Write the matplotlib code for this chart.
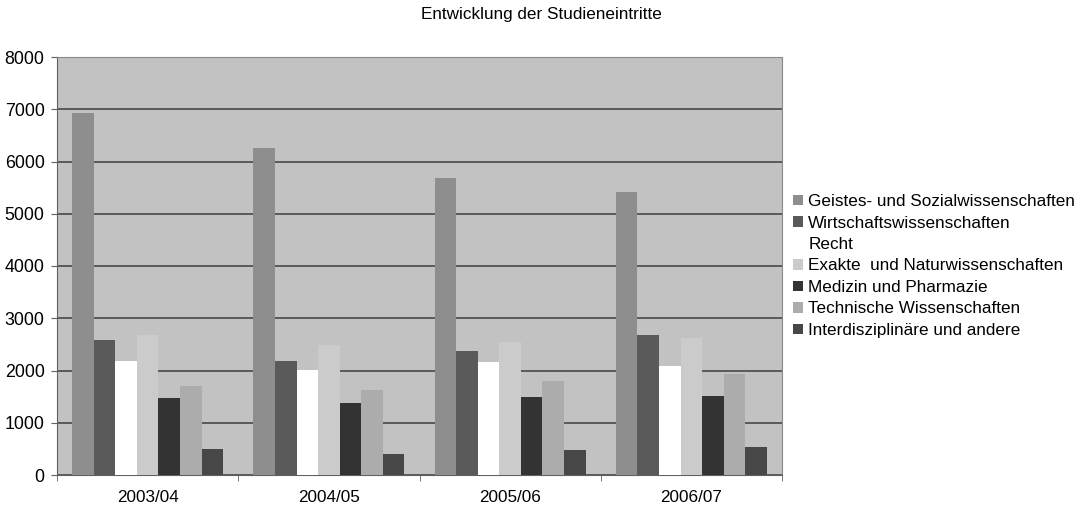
import numpy as np
import matplotlib.pyplot as plt

plt.rcParams['font.family'] = ['Liberation Sans', 'DejaVu Sans']

jahre = ['2003/04', '2004/05', '2005/06', '2006/07']
faecher = ['Geistes- und Sozialwissenschaften', 'Wirtschaftswissenschaften', 'Recht',
           'Exakte  und Naturwissenschaften', 'Medizin und Pharmazie',
           'Technische Wissenschaften', 'Interdisziplinäre und andere']
geistes = [6930, 6250, 5690, 5420]
wirtschaft = [2580, 2190, 2380, 2680]
recht = [2190, 2010, 2170, 2090]
exakte = [2670, 2490, 2540, 2620]
medizin = [1470, 1380, 1490, 1510]
technik = [1710, 1630, 1790, 1930]
inter = [500, 395, 485, 540]
werte = [geistes, wirtschaft, recht, exakte, medizin, technik, inter]
farben = ['#8e8e8e', '#5a5a5a', '#ffffff', '#cbcbcb', '#333333', '#acacac', '#474747']

fig = plt.figure(figsize=(10.78, 5.08), dpi=100)
ax = fig.add_axes([57 / 1078, 1 - 475 / 508, (782 - 57) / 1078, (475 - 57) / 508])
ax.set_facecolor('#c2c2c2')

x = np.arange(len(jahre)) + 0.5
breite = 0.119
for i, (serie, farbe) in enumerate(zip(werte, farben)):
    ax.bar(x + (i - 3) * breite, serie, breite, color=farbe, label=faecher[i],
           zorder=3)

ax.set_xlim(0, len(jahre))
ax.set_ylim(0, 8000)
ax.set_yticks(range(0, 8001, 1000))
ax.yaxis.grid(True, color='#484848', linewidth=1.2, zorder=1)
ax.tick_params(axis='y', labelsize=12.8, length=4, color='#606060', pad=5)
ax.set_xticks(x)
ax.set_xticklabels(jahre)
ax.set_xticks(np.arange(len(jahre) + 1), minor=True)
ax.tick_params(axis='x', which='major', length=0, labelsize=12.3, pad=11)
ax.tick_params(axis='x', which='minor', length=4, color='#606060')
for s in ax.spines.values():
    s.set_color('#8a8a8a')
ax.spines['bottom'].set_color('#606060')
ax.spines['left'].set_color('#606060')

fig.text(541 / 1078, 1 - 15 / 508, 'Entwicklung der Studieneintritte', ha='center',
         va='center', fontsize=12.3)
fig.legend(loc='center left', bbox_to_anchor=(786 / 1078, 1 - 266 / 508), frameon=False,
           fontsize=12.3, handlelength=0.6, handleheight=0.6, handletextpad=0.3,
           labelspacing=0.38, borderaxespad=0)

fig.savefig('out.png', dpi=100)
